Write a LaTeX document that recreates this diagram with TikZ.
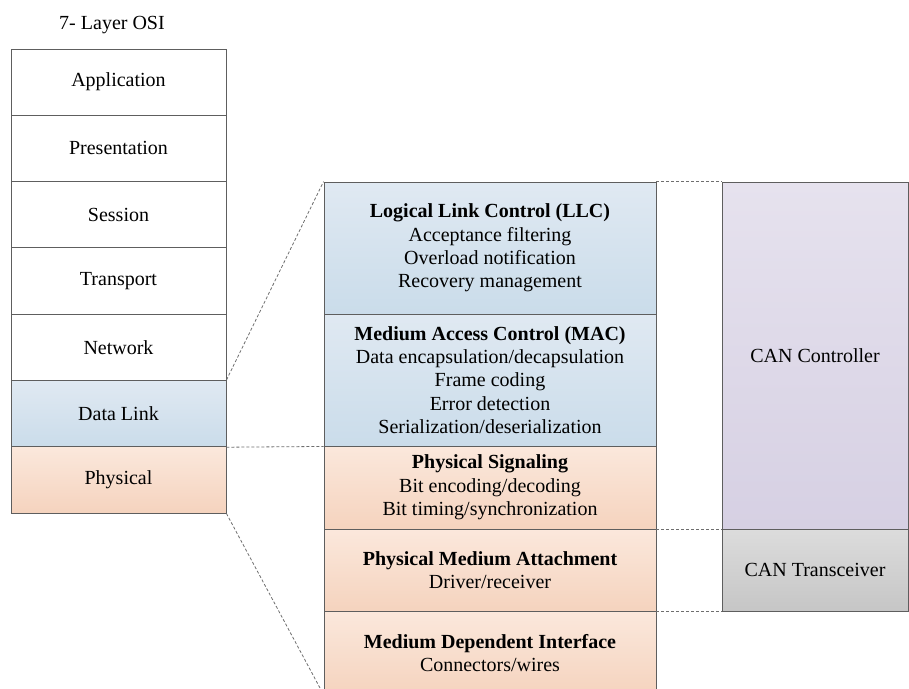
\documentclass[tikz,border=0pt]{standalone}
\usepackage{fontspec}
\setmainfont{Liberation Serif}
\definecolor{edge}{HTML}{5E5E5E}
\definecolor{dlTop}{HTML}{E0E9F2}
\definecolor{dlBot}{HTML}{CADCEA}
\definecolor{phTop}{HTML}{FBE8DC}
\definecolor{phBot}{HTML}{F5D3BE}
\definecolor{ctTop}{HTML}{E6E2EE}
\definecolor{ctBot}{HTML}{D6D0E3}
\definecolor{trTop}{HTML}{DCDCDC}
\definecolor{trBot}{HTML}{C6C6C6}
\definecolor{guide}{HTML}{6E6E6E}
\begin{document}
\begin{tikzpicture}[x=1pt,y=-1pt,
  layer/.style={draw=edge, line width=0.9pt, minimum width=215pt, minimum height=66.3pt,
    inner sep=0pt, font=\fontsize{20}{23.3}\selectfont, align=center},
  sublayer/.style={draw=edge, line width=0.9pt, minimum width=332pt, inner sep=0pt,
    font=\fontsize{20}{23.3}\selectfont, align=center},
  canbox/.style={draw=edge, line width=0.9pt, minimum width=186pt, inner sep=0pt,
    font=\fontsize{20}{23.3}\selectfont, align=center},
  blueshade/.style={top color=dlTop, bottom color=dlBot},
  peachshade/.style={top color=phTop, bottom color=phBot},
  guideline/.style={draw=guide, line width=0.8pt, dash pattern=on 3pt off 2pt}]
\useasboundingbox (0,0) rectangle (909,688);

% title
\node[font=\fontsize{20}{23.3}\selectfont] (title) at (112,25) {7- Layer OSI};

% seven-layer OSI stack
\node[layer] (app)  at (118.5,82.1)  {Application};
\node[layer] (pres) at (118.5,148.4) {Presentation};
\node[layer] (sess) at (118.5,214.7) {Session};
\node[layer] (trans) at (118.5,281)  {Transport};
\node[layer] (net)  at (118.5,347.3) {Network};
\node[layer, blueshade] (dl) at (118.5,413.6) {Data Link};
\node[layer, peachshade] (phy) at (118.5,479.9) {Physical};

% CAN sublayers
\node[sublayer, blueshade, minimum height=132pt] (llc) at (490,248)
  {\textbf{Logical Link Control (LLC)}\\Acceptance filtering\\Overload notification\\Recovery management};
\node[sublayer, blueshade, minimum height=132pt] (mac) at (490,380)
  {\textbf{Medium Access Control (MAC)}\\Data encapsulation/decapsulation\\Frame coding\\Error detection\\Serialization/deserialization};
\node[sublayer, peachshade, minimum height=83pt] (ps) at (490,487.5)
  {\textbf{Physical Signaling}\\Bit encoding/decoding\\Bit timing/synchronization};
\node[sublayer, peachshade, minimum height=82pt] (pma) at (490,570)
  {\textbf{Physical Medium Attachment}\\Driver/receiver};
\node[sublayer, peachshade, minimum height=84pt] (mdi) at (490,653)
  {\textbf{Medium Dependent Interface}\\Connectors/wires};

% CAN hardware blocks
\node[canbox, top color=ctTop, bottom color=ctBot, minimum height=347pt] (ctrl) at (815,355.5)
  {CAN Controller};
\node[canbox, top color=trTop, bottom color=trBot, minimum height=82pt] (xcvr) at (815,570)
  {CAN Transceiver};

% guide lines from the OSI stack to the sublayers
\draw[guideline] (dl.north east) -- (llc.north west);
\draw[guideline] (dl.south east) -- (mac.south west);
\coordinate (mdiBase) at (320,688);
\draw[guideline] (phy.south east) -- (mdiBase);

% guide lines from the sublayers to the hardware blocks
\draw[guideline] (llc.north east) -- (ctrl.north west);
\draw[guideline] (ps.south east) -- (ctrl.south west);
\draw[guideline] (pma.south east) -- (xcvr.south west);
\end{tikzpicture}
\end{document}
